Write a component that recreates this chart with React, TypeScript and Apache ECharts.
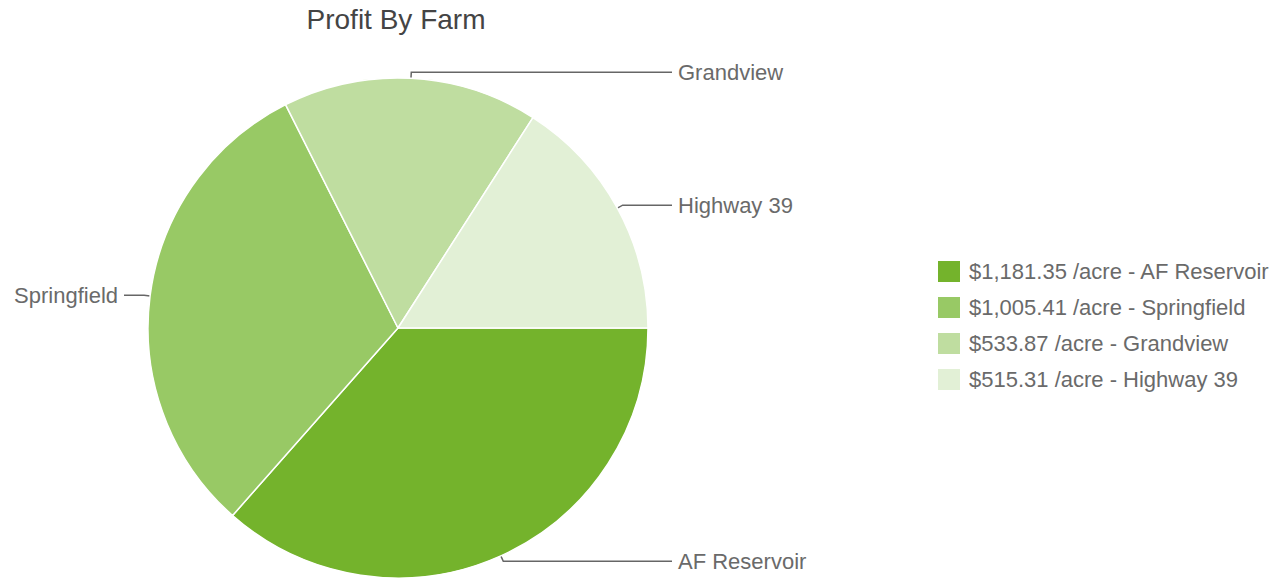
import React, { useEffect, useRef } from "react";
import * as echarts from "echarts";

const titleText = "Profit By Farm";
const farms = ["AF Reservoir", "Springfield", "Grandview", "Highway 39"];
const profits = [1181.35, 1005.41, 533.87, 515.31];
const colors = ["#74b32c", "#98c965", "#bfdda0", "#e2f0d6"];

const CX = 398;
const CY = 328;
const R = 250;
const LEN1 = 6;
const LABEL_EDGE = 274;

function fmt(v: number) {
  return "$" + v.toLocaleString("en-US", { minimumFractionDigits: 2, maximumFractionDigits: 2 });
}

export default function App() {
  const ref = useRef<HTMLDivElement>(null);
  useEffect(() => {
    if (!ref.current) return;
    const chart = echarts.init(ref.current, undefined, { renderer: "svg" });
    const total = profits.reduce((a, b) => a + b, 0);
    let acc = 0;
    const data = farms.map((name, i) => {
      const frac = profits[i] / total;
      const mid = (acc + frac / 2) * Math.PI * 2; // clockwise from 3 o'clock
      acc += frac;
      const px = CX + (R + LEN1) * Math.cos(mid);
      const right = Math.cos(mid) >= 0;
      const endX = right ? CX + LABEL_EDGE : CX - LABEL_EDGE;
      const len2 = Math.max(1, Math.abs(endX - px));
      return {
        name,
        value: profits[i],
        itemStyle: { color: colors[i] },
        labelLine: { length: LEN1, length2: len2 },
      };
    });
    chart.setOption({
      animation: false,
      backgroundColor: "#ffffff",
      title: {
        text: titleText,
        left: 396,
        top: 5,
        padding: 0,
        textAlign: "center",
        textStyle: {
          fontFamily: "Liberation Sans, Arial, sans-serif",
          fontSize: 28,
          fontWeight: "normal",
          color: "#444444",
        },
      },
      legend: {
        orient: "vertical",
        left: 936,
        top: 259,
        padding: 0,
        itemWidth: 24,
        itemHeight: 23,
        itemGap: 11,
        icon: "rect",
        data: farms,
        formatter: (name: string) => {
          const i = farms.indexOf(name);
          return fmt(profits[i]) + " /acre - " + name;
        },
        textStyle: {
          fontFamily: "Liberation Sans, Arial, sans-serif",
          fontSize: 22,
          color: "#6a6a6a",
          padding: [0, 0, 0, 3],
        },
      },
      series: [
        {
          type: "pie",
          center: [CX, CY],
          radius: [0, R],
          startAngle: 0,
          clockwise: true,
          data,
          itemStyle: { borderColor: "#ffffff", borderWidth: 1.5 },
          label: {
            show: true,
            formatter: "{b}",
            fontFamily: "Liberation Sans, Arial, sans-serif",
            fontSize: 22,
            color: "#6a6a6a",
            distanceToLabelLine: 6,
          },
          labelLine: {
            show: true,
            lineStyle: { color: "#666666", width: 1.5 },
          },
          emphasis: { disabled: true },
        },
      ],
    });
    return () => chart.dispose();
  }, []);
  return (
    <div
      ref={ref}
      style={{ position: "fixed", left: 0, top: 0, width: 1282, height: 584 }}
    />
  );
}
